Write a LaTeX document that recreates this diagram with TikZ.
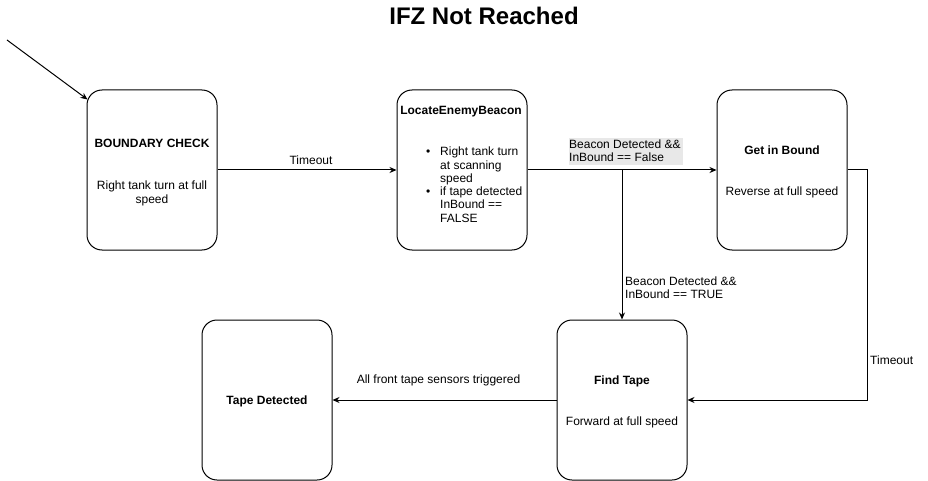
\documentclass[tikz,border=0pt]{standalone}
\usepackage{fontspec}
\setmainfont{Liberation Sans}
\usetikzlibrary{arrows.meta}
\definecolor{lblbg}{HTML}{E8E8E8}
\tikzset{
  state/.style={draw=black, line width=1pt, rounded corners=15pt, minimum width=130pt, minimum height=160pt, inner sep=0pt},
  txt/.style={inner sep=0pt, anchor=base, font=\fontsize{12}{13.2}\selectfont},
  ltxt/.style={inner sep=0pt, anchor=base west, font=\fontsize{12}{13.2}\selectfont},
  arr/.style={draw=black, line width=1pt, -{Stealth[length=7pt,width=6pt]}},
}
\begin{document}
\begin{tikzpicture}[x=1pt,y=-1pt]
\path[use as bounding box, fill=white] (0,0) rectangle (928,481);
% title
\node[txt, font=\fontsize{24}{28}\selectfont\bfseries] (title) at (484,25) {IFZ Not Reached};
% states
\node[state] (bc)  at (152,170) {};
\node[state] (leb) at (462,170) {};
\node[state] (gib) at (782,170) {};
\node[state] (ft)  at (622,400) {};
\node[state] (td)  at (267,400) {};
% state texts
\node[txt, font=\fontsize{12}{13.2}\selectfont\bfseries] (bct) at (152,147.3) {BOUNDARY CHECK};
\node[txt] (bcd1) at (152,189.3) {Right tank turn at full};
\node[txt] (bcd2) at (152,203.3) {speed};
\node[txt, font=\fontsize{12}{13.2}\selectfont\bfseries] (lebt) at (461,114.3) {LocateEnemyBeacon};
\node[txt] (b1) at (428.3,156) {•};
\node[ltxt] (l1) at (440,156) {Right tank turn};
\node[ltxt] (l2) at (440,169.2) {at scanning};
\node[ltxt] (l3) at (440,182.4) {speed};
\node[txt] (b2) at (428.3,195.6) {•};
\node[ltxt] (l4) at (440,195.6) {if tape detected};
\node[ltxt] (l5) at (440,208.8) {InBound ==};
\node[ltxt] (l6) at (440,222) {FALSE};
\node[txt, font=\fontsize{12}{13.2}\selectfont\bfseries] (gibt) at (782,154.3) {Get in Bound};
\node[txt] (gibd) at (782,195.3) {Reverse at full speed};
\node[txt, font=\fontsize{12}{13.2}\selectfont\bfseries] (ftt) at (622,384.3) {Find Tape};
\node[txt] (ftd) at (622,425.3) {Forward at full speed};
\node[txt, font=\fontsize{12}{13.2}\selectfont\bfseries] (tdt) at (267,404.8) {Tape Detected};
% connectors
\coordinate (init) at (7,40);
\draw[arr] (init) -- ([xshift=1pt,yshift=-10pt]bc.north west);
\draw[arr] (bc) -- (leb);
\draw[arr] (leb) -- (gib);
\coordinate (br) at (ft.north |- leb.east);
\draw[arr] (br) -- (ft);
\draw[arr] (gib.east) -- ++(20,0) |- (ft.east);
\draw[arr] (ft) -- (td);
% edge labels
\node[txt] (e1) at (311,164.3) {Timeout};
\fill[lblbg] (569,138) rectangle (683,165);
\node[ltxt] (e2a) at (569,148.3) {Beacon Detected \&\&};
\node[ltxt] (e2b) at (569,162) {InBound == False};
\node[ltxt] (e3a) at (625,285) {Beacon Detected \&\&};
\node[ltxt] (e3b) at (625,298.3) {InBound == TRUE};
\node[ltxt] (e4) at (870,364.3) {Timeout};
\node[txt] (e5) at (438.5,383.6) {All front tape sensors triggered};
\end{tikzpicture}
\end{document}
